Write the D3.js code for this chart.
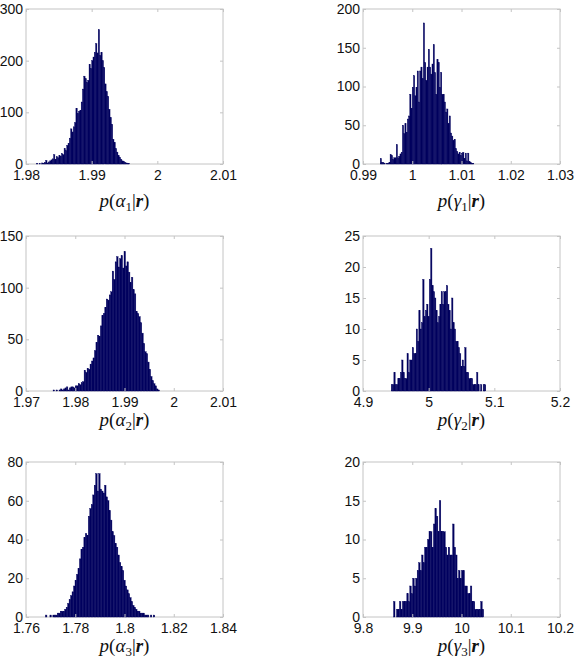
<!DOCTYPE html>
<html>
<head>
<meta charset="utf-8">
<script src="https://cdn.jsdelivr.net/npm/d3@7"></script>
<style>
  body { margin: 0; background: #fff; }
  .tick text { font-family: "Liberation Sans", Arial, sans-serif; fill: #111; }
</style>
</head>
<body>
<div class="chart"></div>
<script>
// histogram counts, one array per panel
var countsA1 = [0,1,0,1,0,2,1,3,7,2,4,6,8,10,18,9,14,12,16,15,20,18,30,26,36,40,50,68,62,72,
	80,108,98,102,104,120,145,170,165,158,162,193,185,200,207,216,233,215,260,210,216,200,187,155,140,131,106,90,77,48,
	42,30,23,16,13,9,6,5,3,2,1,1];
var countsG1 = [7,2,2,1,0,1,1,2,12,11,6,8,8,25,8,10,13,15,50,39,52,41,58,62,90,72,99,114,88,99,
	120,80,120,125,110,182,131,108,125,148,125,116,129,154,118,90,135,131,99,118,90,90,80,67,71,52,62,40,36,30,
	32,20,16,13,15,11,14,15,7,14,4,14,3,2,1,1];
var countsA2 = [0,1,0,1,0,1,2,1,2,3,4,1,3,4,4,3,5,5,7,6,8,9,20,18,22,21,26,29,32,39,
	47,54,53,63,73,75,81,89,88,93,96,116,108,125,130,120,128,131,119,135,121,125,115,105,110,98,94,77,75,72,
	66,56,46,38,36,28,21,14,10,7,5,2,1];
var countsG2 = [1,1,3,1,1,2,2,3,5,3,2,2,6,3,5,5,7,6,6,10,8,13,10,11,18,12,13,14,12,18,
	23,17,16,15,13,11,12,14,16,14,16,16,17,14,13,10,15,11,10,8,8,7,6,4,5,4,7,3,3,2,
	2,2,1,1,1,3,1,0,1,0,1,1];
var countsA3 = [0,0,0,1,0,0,1,0,1,1,1,2,2,3,3,3,4,5,7,9,11,13,16,19,22,25,30,35,36,41,
	43,42,52,56,58,63,68,74,65,74,66,65,64,68,62,60,55,50,44,42,38,36,32,28,26,24,19,16,14,12,
	10,8,6,5,4,3,3,2,2,2,1,1,1,0,1,0,1];
var countsG3 = [0,0,0,0,0,2,0,1,1,2,1,2,2,2,3,2,4,3,5,4,5,6,7,6,8,7,9,9,10,11,
	11,9,12,14,13,11,15,11,11,11,9,8,9,8,8,12,9,8,5,6,5,6,6,4,4,3,3,4,2,2,
	1,1,1,1,2,1,0,0];

var allCounts = [countsA1, countsG1, countsA2, countsG2, countsA3, countsG3];
var binStarts = [1.9814, 0.9935, 1.9752, 4.943, 1.7661, 9.847];
var binWidths = [0.0002, 0.00025, 0.0003, 0.002, 0.0006, 0.003];

var xDomains = [[1.98, 2.01], [0.99, 1.03], [1.97, 2.01], [4.9, 5.2], [1.76, 1.84], [9.8, 10.2]];
var yDomains = [[0, 300], [0, 200], [0, 150], [0, 25], [0, 80], [0, 20]];
var xTicks = [[1.98, 1.99, 2, 2.01], [0.99, 1, 1.01, 1.02, 1.03], [1.97, 1.98, 1.99, 2, 2.01],
	[4.9, 5, 5.1, 5.2], [1.76, 1.78, 1.8, 1.82, 1.84], [9.8, 9.9, 10, 10.1, 10.2]];
var yTicks = [[0, 100, 200, 300], [0, 50, 100, 150, 200], [0, 50, 100, 150],
	[0, 5, 10, 15, 20, 25], [0, 20, 40, 60, 80], [0, 5, 10, 15, 20]];
var paramNames = ["α", "γ", "α", "γ", "α", "γ"];
var paramIdx = ["1", "1", "2", "2", "3", "3"];

var width = 583, height = 672;
var colLeft = [26, 363], plotW = 197;
var rowTop = [9, 236, 462], plotH = 155;
var labelBase = [207, 426, 652];

var svg = d3.select(".chart")
	.append("svg")
		.attr("width", width)
		.attr("height", height);

allCounts.forEach(function(counts, p) {
	var col = p % 2, row = Math.floor(p / 2);
	var left = colLeft[col], top = rowTop[row];

	var x = d3.scaleLinear().domain(xDomains[p]).range([left, left + plotW]);
	var y = d3.scaleLinear().domain(yDomains[p]).range([top + plotH, top]);

	var g = svg.append("g");

	// box
	g.append("rect")
		.attr("x", left).attr("y", top)
		.attr("width", plotW).attr("height", plotH)
		.attr("fill", "#fff")
		.attr("stroke", "#c4c4c4")
		.attr("stroke-width", 1);

	// bars
	var start = binStarts[p], w = binWidths[p];
	g.selectAll("rect.bar")
		.data(counts)
		.enter()
		.append("rect")
			.attr("class", "bar")
			.attr("x", function(d, i) { return x(start + i * w); })
			.attr("width", function(d, i) { return x(start + (i + 1) * w) - x(start + i * w); })
			.attr("y", function(d) { return y(d); })
			.attr("height", function(d) { return y(0) - y(d); })
			.attr("fill", "#00005e")
			.attr("stroke", "#00005e")
			.attr("stroke-width", 0.4);

	// axes, ticks pointing inward
	var xAxis = d3.axisBottom(x).tickValues(xTicks[p]).tickSize(-3).tickPadding(6)
		.tickFormat(function(d) { return d3.format("")(+d.toFixed(3)); });
	var xg = g.append("g")
		.attr("transform", "translate(0," + (top + plotH) + ")")
		.call(xAxis);
	var yAxis = d3.axisLeft(y).tickValues(yTicks[p]).tickSize(-3).tickPadding(3);
	var yg = g.append("g")
		.attr("transform", "translate(" + left + ",0)")
		.call(yAxis);
	var xTop = g.append("g")
		.attr("transform", "translate(0," + top + ")")
		.call(d3.axisTop(x).tickValues(xTicks[p]).tickSize(-3).tickFormat(""));
	var yRight = g.append("g")
		.attr("transform", "translate(" + (left + plotW) + ",0)")
		.call(d3.axisRight(y).tickValues(yTicks[p]).tickSize(-3).tickFormat(""));

	[xg, yg, xTop, yRight].forEach(function(a) {
		a.select(".domain").remove();
		a.selectAll(".tick line").attr("stroke", "#c4c4c4");
	});
	xg.selectAll(".tick text").attr("font-size", "14px");
	yg.selectAll(".tick text").attr("font-size", "14px");

	// x label p(α_k|r)
	var lab = g.append("text")
		.attr("x", left + plotW / 2)
		.attr("y", labelBase[row])
		.attr("text-anchor", "middle")
		.attr("font-family", "'Liberation Serif', 'Times New Roman', serif")
		.attr("font-size", "19px")
		.attr("fill", "#111");
	lab.append("tspan").attr("font-style", "italic").text("p");
	lab.append("tspan").text("(");
	lab.append("tspan").attr("font-style", "italic").text(paramNames[p]);
	lab.append("tspan").attr("font-size", "13px").attr("dy", 4).text(paramIdx[p]);
	lab.append("tspan").attr("dy", -4).text("|");
	lab.append("tspan").attr("font-style", "italic").attr("font-weight", "bold").text("r");
	lab.append("tspan").text(")");
});
</script>
</body>
</html>
